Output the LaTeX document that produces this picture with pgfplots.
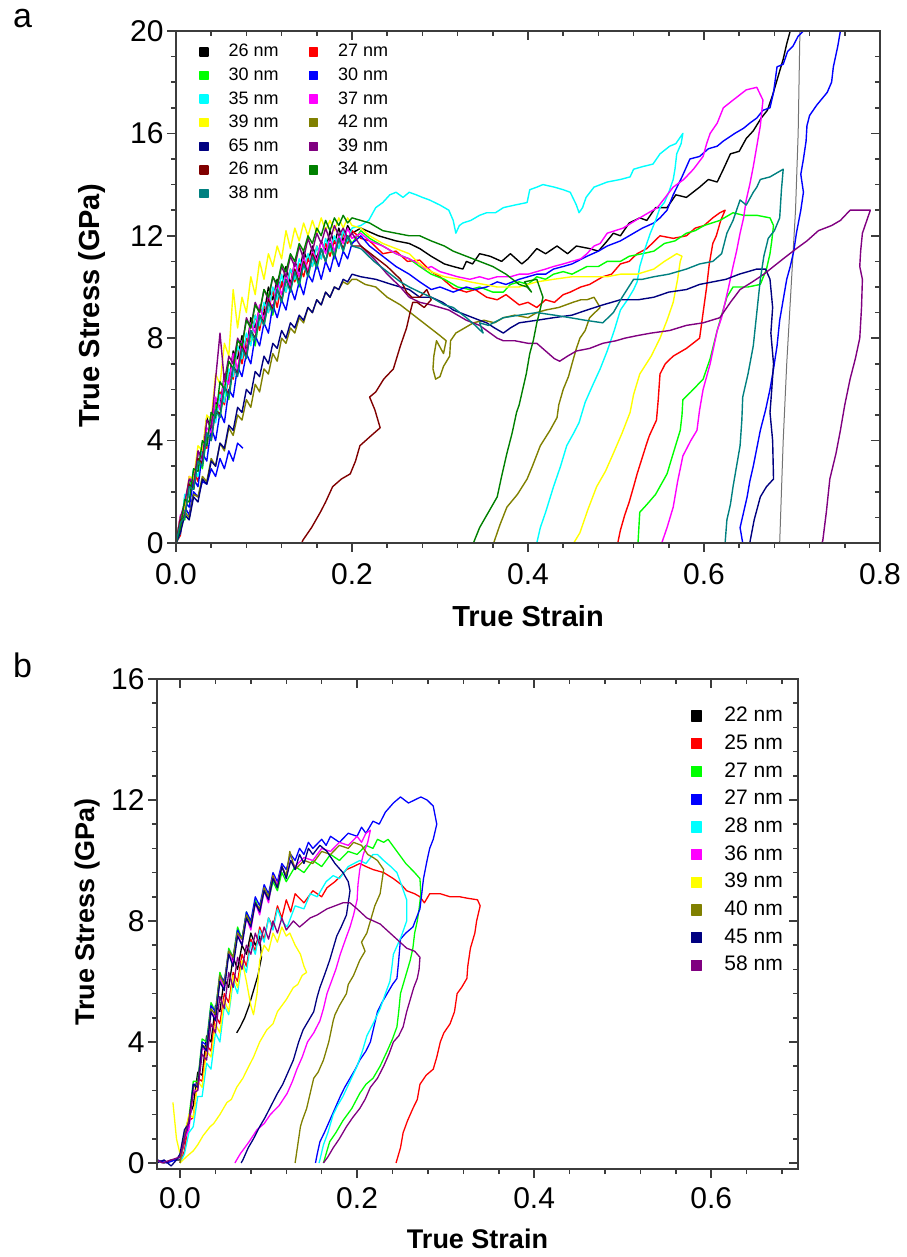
\documentclass[border=0pt]{standalone}
\usepackage{fontspec}
\setmainfont{Liberation Sans}
\usepackage{pgfplots}
\pgfplotsset{compat=1.18}
\definecolor{cOlive}{RGB}{128,128,0}
\definecolor{cNavy}{RGB}{0,0,128}
\definecolor{cPurple}{RGB}{128,0,128}
\definecolor{cWine}{RGB}{128,0,0}
\definecolor{cDGreen}{RGB}{0,128,0}
\definecolor{cTeal}{RGB}{0,128,128}
\definecolor{cGreen}{RGB}{0,255,0}
\definecolor{cBlue}{RGB}{0,0,255}
\definecolor{cRed}{RGB}{255,0,0}
\definecolor{cCyan}{RGB}{0,255,255}
\definecolor{cMag}{RGB}{255,0,255}
\definecolor{cYel}{RGB}{255,255,0}
\definecolor{axgray}{RGB}{60,60,60}
\pgfplotsset{
  myframe/.style={
    scale only axis,
    axis line style={axgray, line width=1.8pt},
    tick style={axgray, line width=1.5pt},
    major tick length=9pt, minor tick length=5pt,
    tick label style={font=\fontsize{30}{36}\selectfont, text=black},
    /pgf/number format/assume math mode=true,
  },
}
\begin{document}
\begin{tikzpicture}
\useasboundingbox (0,0) rectangle (906pt,1257pt);
\node[font=\fontsize{34}{40}\selectfont, anchor=base west, inner sep=0pt] at (13pt,1229pt) {a};
\node[font=\fontsize{34}{40}\selectfont, anchor=base west, inner sep=0pt] at (13pt,579pt) {b};
% ================= PANEL A =================
\begin{axis}[myframe, at={(176pt,714pt)}, anchor=south west, width=704pt, height=512pt,
  xmin=0, xmax=0.8, ymin=0, ymax=20,
  xtick={0,0.2,0.4,0.6,0.8}, xticklabels={0.0,0.2,0.4,0.6,0.8},
  ytick={0,4,8,12,16,20}, yticklabels={0,4,8,12,16,20},
  xticklabel style={yshift=-8pt},
  minor xtick={0.04,0.08,0.12,0.16,0.24,0.28,0.32,0.36,0.44,0.48,0.52,0.56,0.64,0.68,0.72,0.76},
  minor ytick={1,2,3,5,6,7,9,10,11,13,14,15,17,18,19},
  xtick pos=left, ytick pos=left, tick align=outside,
  xlabel={True Strain}, ylabel={True Stress (GPa)},
  label style={font=\bfseries\fontsize{29}{34}\selectfont},
  xlabel style={at={(axis description cs:0.5,-0.1426)}, anchor=center},
  ylabel style={at={(axis description cs:-0.119,0.463)}, anchor=center},
  legend columns=2, legend cell align=left,
  legend style={draw=none, fill=none, at={(axis description cs:0.0327,0.975)}, anchor=north west,
    font=\fontsize{18}{21}\selectfont, inner sep=0pt, row sep=7.6pt, column sep=20pt,
    nodes={inner sep=0pt, text height=13pt, text depth=3pt},
    /tikz/every even column/.append style={column sep=30pt}},
  legend image code/.code={\fill[#1] (0pt,-4pt) rectangle (8pt,4pt);},
  every axis plot/.append style={line width=1.4pt, line join=round},
]
% black 26 nm
\addplot[color=black] coordinates {(0,0)(0.005,1.0)(0.01,1.1)(0.015,2.5)(0.02,2.1)(0.025,3.5)(0.03,3.5)(0.035,4.9)(0.04,4.4)(0.045,5.5)(0.05,5.3)(0.055,6.6)(0.06,6.3)(0.065,7.5)(0.07,7.2)(0.075,8.1)(0.08,7.5)(0.085,8.8)(0.09,8.4)(0.095,9.2)(0.1,8.9)(0.105,10.0)(0.11,9.5)(0.115,10.3)(0.12,10.0)(0.125,10.8)(0.13,10.1)(0.135,11.0)(0.14,10.6)(0.145,11.4)(0.15,11.0)(0.155,11.6)(0.16,11.1)(0.165,11.8)(0.17,11.4)(0.175,12.2)(0.18,11.7)(0.185,12.3)(0.19,11.8)(0.195,12.4)(0.2,12.1)
(0.21,12.3)(0.23,12.0)(0.25,11.8)(0.265,11.7)(0.277,11.5)(0.29,11.2)(0.305,10.9)(0.315,10.8)(0.326,10.7)(0.33,11.0)(0.337,10.9)(0.345,11.3)(0.357,11.2)(0.37,11.0)(0.38,11.3)(0.393,10.9)(0.4,11.1)(0.41,11.5)(0.42,11.3)(0.433,11.6)(0.445,11.3)(0.455,11.6)(0.47,11.5)(0.48,11.4)(0.49,11.8)(0.497,12.1)(0.505,12.0)(0.515,12.5)(0.527,12.7)(0.535,12.6)(0.545,13.1)(0.558,13.1)(0.568,13.6)(0.58,13.5)(0.595,13.9)(0.605,14.2)(0.615,14.1)(0.622,14.6)(0.63,15.2)(0.64,15.3)(0.648,15.8)(0.656,16.1)(0.665,16.6)(0.672,16.9)(0.678,17.5)(0.684,18.2)(0.69,18.9)(0.694,19.5)(0.698,20.0)(0.704,21)};
\addlegendentry{26 nm}
\addplot[color=black!55, line width=1.0pt, forget plot] coordinates {(0.704,21)(0.709,20)(0.707,16)(0.704,13)(0.699,10)(0.694,7)(0.69,4)(0.688,2)(0.686,0)};
% red 27 nm
\addplot[color=cRed] coordinates {(0,0)(0.005,0.3)(0.01,1.8)(0.015,1.8)(0.02,2.8)(0.025,2.4)(0.03,3.9)(0.035,3.7)(0.04,5.1)(0.045,4.8)(0.05,5.9)(0.055,5.4)(0.06,6.6)(0.065,6.4)(0.07,7.7)(0.075,7.0)(0.08,8.0)(0.085,7.8)(0.09,8.9)(0.095,8.3)(0.1,9.3)(0.105,9.0)(0.11,9.9)(0.115,9.2)(0.12,10.2)(0.125,9.8)(0.13,10.7)(0.135,10.2)(0.14,10.9)(0.145,10.4)(0.15,11.1)(0.155,10.8)(0.16,11.6)(0.165,11.1)(0.17,11.7)(0.175,11.2)(0.18,11.8)(0.185,11.5)(0.19,12.1)(0.195,11.7)(0.2,12.2)
(0.21,11.9)(0.22,11.8)(0.235,11.3)(0.25,11.4)(0.263,11.0)(0.277,11.05)(0.29,10.6)(0.3,10.4)(0.315,9.96)(0.33,9.8)(0.34,9.9)(0.353,9.6)(0.365,9.5)(0.375,9.7)(0.39,9.3)(0.4,9.4)(0.41,9.2)(0.42,9.5)(0.43,9.4)(0.44,9.7)(0.448,9.8)(0.46,10.0)(0.47,10.1)(0.485,10.4)(0.495,10.5)(0.505,10.9)(0.515,11.0)(0.524,11.3)(0.535,11.5)(0.55,12.0)(0.565,11.9)(0.58,12.0)(0.59,12.3)(0.6,12.4)(0.61,12.7)(0.618,12.9)(0.624,13.0)(0.619,12.6)(0.614,12.0)(0.61,11.7)(0.606,10.9)(0.603,10.0)(0.599,9.0)(0.595,8.0)(0.58,7.6)(0.565,7.3)(0.556,7.0)(0.55,6.6)(0.548,5.6)(0.546,4.8)(0.538,4.2)(0.535,3.9)(0.524,2.7)(0.52,2.2)(0.515,1.6)(0.51,1.1)(0.505,0.5)(0.502,0)};
\addlegendentry{27 nm}
% green 30 nm
\addplot[color=cGreen] coordinates {(0,0)(0.005,1.0)(0.01,0.9)(0.015,2.4)(0.02,2.1)(0.025,3.3)(0.03,2.9)(0.035,4.2)(0.04,4.2)(0.045,5.4)(0.05,4.9)(0.055,6.0)(0.06,5.6)(0.065,6.9)(0.07,6.6)(0.075,7.8)(0.08,7.4)(0.085,8.2)(0.09,7.7)(0.095,8.9)(0.1,8.5)(0.105,9.4)(0.11,8.9)(0.115,10.0)(0.12,9.4)(0.125,10.3)(0.13,9.9)(0.135,10.6)(0.14,10.0)(0.145,11.0)(0.15,10.4)(0.155,11.2)(0.16,10.7)(0.165,11.5)(0.17,11.0)(0.175,11.6)(0.18,11.1)(0.185,11.9)(0.19,11.4)(0.195,12.0)(0.2,11.7)
(0.21,12.2)(0.22,11.9)(0.235,11.6)(0.25,11.3)(0.265,11.1)(0.277,10.8)(0.29,10.5)(0.305,10.3)(0.32,10.0)(0.334,9.9)(0.345,10.0)(0.36,9.8)(0.372,9.8)(0.38,10.1)(0.39,10.2)(0.4,10.1)(0.41,10.4)(0.42,10.3)(0.429,10.5)(0.44,10.6)(0.45,10.5)(0.467,10.8)(0.48,10.8)(0.49,11.0)(0.505,11.0)(0.515,11.2)(0.53,11.3)(0.543,11.4)(0.555,11.7)(0.567,11.8)(0.58,12.1)(0.59,12.2)(0.6,12.4)(0.618,12.6)(0.633,12.9)(0.645,12.8)(0.66,12.8)(0.675,12.7)(0.679,12.4)(0.677,11.8)(0.675,11.3)(0.671,10.7)(0.664,10.1)(0.65,10.0)(0.633,10.0)(0.626,9.6)(0.62,8.9)(0.615,8.3)(0.607,7.2)(0.599,6.4)(0.585,5.9)(0.576,5.6)(0.575,5.0)(0.573,4.4)(0.565,3.5)(0.558,2.7)(0.545,1.9)(0.535,1.5)(0.527,1.2)(0.526,0.6)(0.525,0)};
\addlegendentry{30 nm}
% blue 30 nm
\addplot[color=cBlue] coordinates {(0,0)(0.005,0.4)(0.01,1.6)(0.015,1.4)(0.02,2.5)(0.025,2.2)(0.03,3.5)(0.035,3.2)(0.04,4.5)(0.045,4.0)(0.05,5.1)(0.055,4.7)(0.06,6.0)(0.065,5.7)(0.07,6.9)(0.075,6.5)(0.08,7.4)(0.085,7.0)(0.09,8.1)(0.095,7.7)(0.1,8.6)(0.105,8.2)(0.11,9.3)(0.115,8.8)(0.12,9.5)(0.125,9.1)(0.13,10.0)(0.135,9.5)(0.14,10.2)(0.145,9.7)(0.15,10.5)(0.155,10.2)(0.16,10.9)(0.165,10.3)(0.17,11.0)(0.175,10.6)(0.18,11.3)(0.185,10.8)(0.19,11.4)(0.195,11.1)(0.2,11.7)
(0.21,12.0)(0.22,11.6)(0.235,11.2)(0.25,10.8)(0.265,10.5)(0.277,10.2)(0.29,9.9)(0.3,10.0)(0.315,9.8)(0.33,10.0)(0.34,9.9)(0.353,10.0)(0.365,10.2)(0.375,10.1)(0.39,10.3)(0.4,10.4)(0.41,10.5)(0.42,10.5)(0.429,10.7)(0.44,10.8)(0.45,10.9)(0.467,11.2)(0.48,11.4)(0.49,11.6)(0.505,11.8)(0.515,12.0)(0.53,12.3)(0.543,12.5)(0.55,12.7)(0.558,13.0)(0.565,13.6)(0.575,14.3)(0.584,15.0)(0.595,15.1)(0.605,15.4)(0.615,15.5)(0.622,15.7)(0.635,16.0)(0.645,16.2)(0.652,16.4)(0.66,16.6)(0.667,16.9)(0.675,17.0)(0.679,17.6)(0.683,18.6)(0.69,18.7)(0.695,19.2)(0.701,19.4)(0.707,19.8)(0.713,20.0)(0.72,20.6)(0.75,20.6)(0.755,20.0)(0.752,19.4)(0.747,18.6)(0.745,18.0)(0.74,17.6)(0.728,17.1)(0.72,16.7)(0.717,16.3)(0.716,15.7)(0.713,15.0)(0.71,14.4)(0.713,13.7)(0.71,13.0)(0.705,12.1)(0.702,11.4)(0.698,10.8)(0.694,10.3)(0.69,9.5)(0.686,8.7)(0.683,7.7)(0.679,6.8)(0.675,6.0)(0.67,5.2)(0.664,4.4)(0.66,3.7)(0.656,3.0)(0.652,2.4)(0.649,1.8)(0.645,1.2)(0.641,0.6)(0.644,0)};
\addlegendentry{30 nm}
\addplot[color=cBlue, forget plot] coordinates {(0,0)(0.005,0.5)(0.01,1.4)(0.015,1.1)(0.02,2.0)(0.025,1.8)(0.03,2.4)(0.035,2.3)(0.04,2.9)(0.045,2.6)(0.05,3.3)(0.055,2.9)(0.06,3.6)(0.065,3.2)(0.07,3.9)(0.076,3.7)};
% cyan 35 nm
\addplot[color=cCyan] coordinates {(0,0)(0.005,0.4)(0.01,1.9)(0.015,1.8)(0.02,2.9)(0.025,2.6)(0.03,3.9)(0.035,3.8)(0.04,5.1)(0.045,4.7)(0.05,5.8)(0.055,5.5)(0.06,6.8)(0.065,6.5)(0.07,7.7)(0.075,7.2)(0.08,8.2)(0.085,7.7)(0.09,8.9)(0.095,8.5)(0.1,9.4)(0.105,9.0)(0.11,10.0)(0.115,9.5)(0.12,10.5)(0.125,9.8)(0.13,10.7)(0.135,10.3)(0.14,11.1)(0.145,10.7)(0.15,11.3)(0.155,10.8)(0.16,11.6)(0.165,11.1)(0.17,11.9)(0.175,11.4)(0.18,12.0)(0.185,11.5)(0.19,12.2)(0.195,11.8)(0.2,12.3)
(0.21,12.4)(0.219,12.6)(0.227,13.1)(0.235,13.3)(0.243,13.6)(0.25,13.7)(0.258,13.5)(0.265,13.7)(0.273,13.6)(0.28,13.5)(0.288,13.4)(0.3,13.2)(0.31,13.0)(0.315,12.6)(0.318,12.1)(0.322,12.4)(0.326,12.5)(0.335,12.6)(0.345,12.8)(0.353,12.9)(0.363,12.9)(0.372,13.1)(0.385,13.2)(0.399,13.3)(0.402,13.8)(0.41,13.9)(0.417,14.0)(0.43,13.9)(0.44,13.8)(0.448,13.7)(0.455,13.2)(0.458,12.9)(0.462,13.1)(0.466,13.5)(0.475,13.9)(0.49,14.1)(0.505,14.2)(0.516,14.3)(0.52,14.6)(0.53,14.7)(0.542,14.8)(0.55,15.2)(0.561,15.5)(0.568,15.6)(0.576,16.0)(0.574,15.6)(0.569,15.2)(0.567,14.6)(0.565,14.2)(0.56,13.7)(0.555,13.3)(0.55,13.1)(0.545,12.6)(0.539,12.1)(0.533,11.5)(0.527,10.8)(0.524,10.2)(0.52,9.9)(0.513,9.5)(0.505,9.1)(0.498,8.3)(0.49,7.5)(0.482,6.8)(0.474,6.2)(0.465,5.5)(0.458,4.7)(0.452,4.3)(0.444,3.8)(0.437,3.0)(0.429,2.2)(0.42,1.2)(0.414,0.6)(0.41,0)};
\addlegendentry{35 nm}
% magenta 37 nm
\addplot[color=cMag] coordinates {(0,0)(0.005,1.1)(0.01,1.1)(0.015,2.6)(0.02,2.3)(0.025,3.6)(0.03,3.2)(0.035,4.5)(0.04,4.3)(0.045,5.7)(0.05,5.2)(0.055,6.5)(0.06,6.2)(0.065,7.4)(0.07,6.8)(0.075,7.9)(0.08,7.4)(0.085,8.6)(0.09,8.2)(0.095,9.3)(0.1,8.7)(0.105,9.6)(0.11,9.1)(0.115,10.2)(0.12,9.7)(0.125,10.5)(0.13,10.0)(0.135,11.0)(0.14,10.4)(0.145,11.2)(0.15,10.6)(0.155,11.4)(0.16,11.0)(0.165,11.8)(0.17,11.3)(0.175,11.9)(0.18,11.4)(0.185,12.0)(0.19,11.7)(0.195,12.3)(0.2,11.9)
(0.21,12.1)(0.22,11.8)(0.235,11.6)(0.25,11.3)(0.265,11.1)(0.277,10.9)(0.283,10.7)(0.29,10.8)(0.3,10.6)(0.31,10.5)(0.32,10.4)(0.334,10.3)(0.345,10.4)(0.355,10.3)(0.365,10.4)(0.38,10.4)(0.39,10.5)(0.4,10.5)(0.41,10.6)(0.42,10.7)(0.429,10.8)(0.44,10.9)(0.45,11.0)(0.46,11.1)(0.467,11.3)(0.475,11.6)(0.482,11.7)(0.49,12.1)(0.508,12.3)(0.527,12.7)(0.547,13.1)(0.565,13.9)(0.577,14.2)(0.588,14.6)(0.599,15.1)(0.603,15.6)(0.607,16.0)(0.615,16.4)(0.622,17.0)(0.633,17.3)(0.648,17.7)(0.66,17.8)(0.667,17.3)(0.664,16.3)(0.66,15.5)(0.656,14.7)(0.652,14.0)(0.648,13.4)(0.645,12.7)(0.641,12.1)(0.637,11.4)(0.633,10.8)(0.628,10.0)(0.62,8.8)(0.615,8.3)(0.607,7.0)(0.599,6.0)(0.595,5.2)(0.592,4.4)(0.585,4.0)(0.576,3.4)(0.57,2.4)(0.565,1.4)(0.558,0.6)(0.552,0)};
\addlegendentry{37 nm}
% yellow 39 nm
\addplot[color=cYel] coordinates {(0,0)(0.005,1.0)(0.01,1.4)(0.015,2.6)(0.02,2.5)(0.025,3.8)(0.03,3.6)(0.035,5.0)(0.04,4.8)(0.045,6.6)(0.05,6.2)(0.055,7.8)(0.06,7.3)(0.065,9.9)(0.07,8.4)(0.075,9.6)(0.08,9.0)(0.085,10.4)(0.09,9.7)(0.095,11.0)(0.1,10.3)(0.105,11.3)(0.11,10.8)(0.115,11.6)(0.12,11.1)(0.125,12.2)(0.13,11.5)(0.135,12.3)(0.14,11.8)(0.145,12.5)(0.15,12.0)(0.155,12.6)(0.16,12.1)(0.165,12.7)(0.17,12.2)(0.175,12.6)(0.18,12.2)(0.185,12.7)(0.19,12.3)(0.195,12.7)(0.2,12.4)
(0.21,12.3)(0.22,12.0)(0.235,11.7)(0.25,11.5)(0.265,11.3)(0.277,10.9)(0.29,10.6)(0.305,10.4)(0.322,10.3)(0.334,10.2)(0.35,10.1)(0.365,10.0)(0.39,10.0)(0.41,10.2)(0.429,10.3)(0.45,10.4)(0.467,10.4)(0.49,10.4)(0.505,10.5)(0.524,10.5)(0.543,10.7)(0.555,11.0)(0.569,11.3)(0.575,11.2)(0.573,11.0)(0.57,10.3)(0.565,9.4)(0.558,8.7)(0.55,8.0)(0.54,7.3)(0.527,6.6)(0.52,5.8)(0.516,5.1)(0.507,4.3)(0.497,3.5)(0.488,2.8)(0.478,2.2)(0.468,1.3)(0.459,0.4)(0.452,0)};
\addlegendentry{39 nm}
% olive 42 nm
\addplot[color=cOlive] coordinates {(0,0)(0.005,0.5)(0.01,1.2)(0.015,1.0)(0.02,1.9)(0.025,1.8)(0.03,2.6)(0.035,2.4)(0.04,3.3)(0.045,3.0)(0.05,3.9)(0.055,3.6)(0.06,4.5)(0.065,4.2)(0.07,5.0)(0.075,4.8)(0.08,5.6)(0.085,5.3)(0.09,6.2)(0.095,5.9)(0.1,6.8)(0.105,6.6)(0.11,7.4)(0.115,7.1)(0.12,8.0)(0.125,7.8)(0.13,8.4)(0.135,8.2)(0.14,8.8)(0.145,8.6)(0.15,9.2)(0.155,9.0)(0.16,9.5)(0.165,9.3)(0.17,9.8)(0.175,9.6)(0.18,10.0)(0.185,9.9)(0.19,10.2)(0.195,10.1)(0.2,10.3)
(0.205,10.3)(0.215,10.1)(0.227,10.0)(0.24,9.6)(0.255,9.3)(0.27,8.9)(0.285,8.5)(0.3,8.1)(0.307,7.9)(0.304,7.4)(0.296,7.9)(0.293,7.3)(0.292,6.8)(0.295,6.4)(0.3,6.5)(0.304,6.9)(0.311,7.3)(0.312,7.9)(0.318,8.2)(0.328,8.4)(0.338,8.6)(0.35,8.7)(0.362,8.6)(0.372,8.8)(0.385,8.9)(0.4,8.8)(0.41,9.0)(0.42,9.1)(0.435,9.2)(0.451,9.4)(0.46,9.5)(0.467,9.5)(0.475,9.6)(0.482,9.2)(0.476,9.0)(0.47,8.8)(0.465,8.3)(0.459,8.0)(0.455,7.6)(0.45,7.0)(0.446,6.5)(0.44,6.0)(0.435,5.4)(0.433,4.9)(0.425,4.4)(0.414,3.8)(0.405,3.0)(0.399,2.5)(0.388,1.9)(0.376,1.4)(0.368,0.7)(0.361,0)};
\addlegendentry{42 nm}
% navy 65 nm
\addplot[color=cNavy] coordinates {(0,0)(0.005,0.4)(0.01,1.1)(0.015,0.9)(0.02,1.8)(0.025,1.6)(0.03,2.5)(0.035,2.3)(0.04,3.2)(0.045,3.0)(0.05,3.9)(0.055,3.7)(0.06,4.6)(0.065,4.4)(0.07,5.3)(0.075,5.1)(0.08,6.0)(0.085,5.8)(0.09,6.7)(0.095,6.5)(0.1,7.3)(0.105,7.0)(0.11,7.8)(0.115,7.6)(0.12,8.3)(0.125,8.0)(0.13,8.6)(0.135,8.4)(0.14,8.9)(0.145,8.7)(0.15,9.2)(0.155,9.0)(0.16,9.5)(0.165,9.3)(0.17,9.8)(0.175,9.6)(0.18,10.0)(0.185,9.9)(0.19,10.3)(0.195,10.2)(0.2,10.5)
(0.21,10.4)(0.227,10.3)(0.245,10.1)(0.265,9.9)(0.277,9.6)(0.29,9.6)(0.303,9.4)(0.315,9.1)(0.33,8.9)(0.345,8.7)(0.353,8.6)(0.362,8.4)(0.372,8.2)(0.38,8.4)(0.39,8.6)(0.41,8.7)(0.429,8.8)(0.45,8.9)(0.467,9.1)(0.485,9.3)(0.505,9.5)(0.525,9.5)(0.543,9.6)(0.56,9.8)(0.58,9.9)(0.595,10.1)(0.61,10.2)(0.625,10.3)(0.64,10.5)(0.66,10.7)(0.67,10.7)(0.675,10.3)(0.678,9.2)(0.676,8.2)(0.679,7.0)(0.677,6.0)(0.675,5.1)(0.678,4.0)(0.679,2.5)(0.671,2.2)(0.664,1.8)(0.657,0.9)(0.652,0)};
\addlegendentry{65 nm}
% purple 39 nm
\addplot[color=cPurple] coordinates {(0,0)(0.005,1.0)(0.01,1.6)(0.015,2.5)(0.02,2.3)(0.025,3.6)(0.03,3.3)(0.035,4.8)(0.04,4.5)(0.045,6.4)(0.05,8.2)(0.055,6.3)(0.06,7.3)(0.065,7.0)(0.07,8.0)(0.075,7.7)(0.08,8.8)(0.085,8.4)(0.09,9.4)(0.095,9.0)(0.1,9.9)(0.105,9.5)(0.11,10.4)(0.115,10.0)(0.12,10.8)(0.125,10.4)(0.13,11.2)(0.135,10.8)(0.14,11.6)(0.145,11.1)(0.15,11.9)(0.155,11.4)(0.16,12.1)(0.165,11.7)(0.17,12.3)(0.175,11.8)(0.18,12.4)(0.185,12.0)(0.19,12.3)(0.195,11.9)(0.2,12.1)
(0.21,11.6)(0.225,11.1)(0.24,10.5)(0.255,10.0)(0.265,9.6)(0.277,9.4)(0.29,9.3)(0.31,9.1)(0.315,9.0)(0.33,8.7)(0.345,8.5)(0.353,8.3)(0.365,8.0)(0.372,7.9)(0.385,7.9)(0.4,7.8)(0.41,7.8)(0.42,7.5)(0.43,7.2)(0.436,7.1)(0.445,7.3)(0.455,7.5)(0.47,7.6)(0.485,7.8)(0.5,7.9)(0.51,8.0)(0.524,8.1)(0.54,8.2)(0.561,8.3)(0.58,8.5)(0.599,8.6)(0.618,8.8)(0.63,9.4)(0.641,9.9)(0.655,10.2)(0.668,10.5)(0.679,10.8)(0.69,11.1)(0.705,11.5)(0.717,11.8)(0.73,12.2)(0.745,12.4)(0.755,12.6)(0.766,13.0)(0.778,13.0)(0.789,13.0)(0.785,12.6)(0.78,12.1)(0.778,11.4)(0.777,10.8)(0.78,10.3)(0.779,9.2)(0.777,8.0)(0.772,7.2)(0.766,6.4)(0.76,5.4)(0.755,4.4)(0.75,3.5)(0.743,2.5)(0.739,1.2)(0.735,0.1)(0.734,0)};
\addlegendentry{39 nm}
% wine 26 nm
\addplot[color=cWine] coordinates {(0,0)(0.005,0.9)(0.01,1.0)(0.015,2.3)(0.02,2.1)(0.025,3.3)(0.03,3.1)(0.035,4.3)(0.04,4.0)(0.045,5.2)(0.05,5.0)(0.055,6.1)(0.06,5.8)(0.065,6.9)(0.07,6.6)(0.075,7.7)(0.08,7.3)(0.085,8.3)(0.09,8.0)(0.095,8.9)(0.1,8.6)(0.105,9.5)(0.11,9.1)(0.115,9.9)(0.12,9.5)(0.125,10.3)(0.13,9.9)(0.135,10.7)(0.14,10.2)(0.145,11.0)(0.15,10.5)(0.155,11.3)(0.16,10.9)(0.165,11.5)(0.17,11.0)(0.175,11.7)(0.18,11.2)(0.185,11.9)(0.19,11.5)(0.195,12.0)(0.2,11.6)
(0.21,11.6)(0.225,11.2)(0.24,10.8)(0.255,10.3)(0.262,9.8)(0.268,9.6)(0.277,9.6)(0.285,9.9)(0.29,9.5)(0.282,9.2)(0.274,9.4)(0.269,9.4)(0.266,9.0)(0.262,8.4)(0.258,8.0)(0.255,7.7)(0.247,6.8)(0.236,6.4)(0.227,5.9)(0.22,5.7)(0.226,5.2)(0.232,4.5)(0.222,4.2)(0.209,3.8)(0.204,3.2)(0.198,2.7)(0.188,2.5)(0.178,2.2)(0.17,1.6)(0.164,1.2)(0.154,0.6)(0.144,0.1)(0.143,0)};
\addlegendentry{26 nm}
% dark green 34 nm
\addplot[color=cDGreen] coordinates {(0,0)(0.005,0.6)(0.01,1.7)(0.015,1.6)(0.02,2.9)(0.025,2.8)(0.03,4.0)(0.035,3.8)(0.04,5.1)(0.045,4.9)(0.05,6.3)(0.055,6.0)(0.06,7.1)(0.065,6.8)(0.07,7.9)(0.075,7.7)(0.08,8.7)(0.085,8.4)(0.09,9.3)(0.095,9.0)(0.1,9.9)(0.105,9.6)(0.11,10.4)(0.115,10.1)(0.12,10.9)(0.125,10.6)(0.13,11.3)(0.135,11.0)(0.14,11.7)(0.145,11.4)(0.15,12.0)(0.155,11.7)(0.16,12.3)(0.165,12.0)(0.17,12.6)(0.175,12.2)(0.18,12.7)(0.185,12.4)(0.19,12.8)(0.195,12.5)(0.2,12.7)
(0.21,12.6)(0.22,12.5)(0.235,12.2)(0.25,12.1)(0.265,12.0)(0.277,12.0)(0.29,11.8)(0.305,11.6)(0.315,11.4)(0.33,11.2)(0.345,11.0)(0.36,10.8)(0.375,10.5)(0.39,10.1)(0.399,10.0)(0.404,9.8)(0.396,10.2)(0.41,10.3)(0.417,9.6)(0.413,9.0)(0.41,8.6)(0.406,7.9)(0.402,7.4)(0.398,6.6)(0.394,6.0)(0.39,5.4)(0.387,5.1)(0.382,4.3)(0.376,3.5)(0.37,2.6)(0.365,1.8)(0.355,1.2)(0.345,0.6)(0.338,0)};
\addlegendentry{34 nm}
% teal 38 nm
\addplot[color=cTeal] coordinates {(0,0)(0.005,0.8)(0.01,1.0)(0.015,2.2)(0.02,2.1)(0.025,3.2)(0.03,3.0)(0.035,4.3)(0.04,4.0)(0.045,5.2)(0.05,4.9)(0.055,6.1)(0.06,5.7)(0.065,6.9)(0.07,6.5)(0.075,7.6)(0.08,7.2)(0.085,8.3)(0.09,7.9)(0.095,8.9)(0.1,8.5)(0.105,9.4)(0.11,9.0)(0.115,9.9)(0.12,9.4)(0.125,10.3)(0.13,9.8)(0.135,10.6)(0.14,10.1)(0.145,10.9)(0.15,10.4)(0.155,11.2)(0.16,10.8)(0.165,11.5)(0.17,11.0)(0.175,11.7)(0.18,11.2)(0.185,11.9)(0.19,11.4)(0.195,12.0)(0.2,11.6)
(0.21,11.5)(0.225,11.0)(0.24,10.6)(0.255,10.2)(0.265,10.0)(0.277,9.8)(0.29,9.6)(0.305,9.3)(0.315,9.2)(0.33,8.8)(0.34,8.5)(0.349,8.2)(0.345,8.6)(0.355,8.5)(0.372,8.8)(0.39,8.9)(0.41,9.0)(0.43,8.9)(0.448,8.8)(0.465,8.7)(0.485,8.6)(0.497,9.0)(0.507,9.6)(0.52,10.3)(0.53,10.3)(0.543,10.4)(0.56,10.5)(0.58,10.7)(0.595,10.9)(0.61,11.0)(0.62,11.3)(0.626,12.1)(0.633,12.6)(0.641,13.4)(0.648,13.2)(0.656,13.7)(0.66,13.9)(0.664,14.2)(0.675,14.3)(0.69,14.6)(0.688,13.8)(0.686,12.7)(0.68,12.2)(0.673,11.9)(0.668,11.2)(0.664,10.3)(0.66,9.0)(0.656,7.7)(0.65,6.6)(0.644,5.7)(0.643,4.8)(0.641,3.8)(0.637,3.0)(0.633,2.2)(0.63,1.5)(0.626,0.9)(0.624,0)};
\addlegendentry{38 nm}
\end{axis}
\begin{axis}[myframe, at={(176pt,714pt)}, anchor=south west, width=704pt, height=512pt,
  xmin=0, xmax=0.8, ymin=0, ymax=20,
  xtick={0,0.2,0.4,0.6,0.8}, xticklabels={}, ytick={0,4,8,12,16,20}, yticklabels={},
  minor xtick={0.04,0.08,0.12,0.16,0.24,0.28,0.32,0.36,0.44,0.48,0.52,0.56,0.64,0.68,0.72,0.76},
  minor ytick={1,2,3,5,6,7,9,10,11,13,14,15,17,18,19},
  xtick pos=right, ytick pos=right, tick align=inside]
\end{axis}
% ================= PANEL B =================
\begin{axis}[myframe, at={(157pt,88pt)}, anchor=south west, width=641pt, height=490pt,
  xmin=-0.026, xmax=0.698, ymin=-0.2, ymax=16,
  xtick={0,0.2,0.4,0.6}, xticklabels={0.0,0.2,0.4,0.6},
  ytick={0,4,8,12,16}, yticklabels={0,4,8,12,16},
  xticklabel style={yshift=-6pt},
  minor xtick={0.04,0.08,0.12,0.16,0.24,0.28,0.32,0.36,0.44,0.48,0.52,0.56,0.64,0.68},
  minor ytick={0.8,1.6,2.4,3.2,4.8,5.6,6.4,7.2,8.8,9.6,10.4,11.2,12.8,13.6,14.4,15.2},
  xtick pos=left, ytick pos=left, tick align=outside,
  xlabel={True Strain}, ylabel={True Stress (GPa)},
  label style={font=\bfseries\fontsize{27}{32}\selectfont},
  xlabel style={at={(axis description cs:0.5,-0.143)}, anchor=center},
  ylabel style={at={(axis description cs:-0.108,0.524)}, anchor=center},
  legend cell align=left,
  legend style={draw=none, fill=none, at={(axis description cs:0.833,0.944)}, anchor=north west,
    font=\fontsize{21}{25}\selectfont, inner sep=0pt, row sep=8.7pt, column sep=22pt,
    nodes={inner sep=0pt, text height=15pt, text depth=4pt}},
  legend image code/.code={\fill[#1] (0pt,-5pt) rectangle (10pt,5pt);},
  every axis plot/.append style={line width=1.3pt, line join=round},
]
% black 22 nm
\addplot[color=black] coordinates {(-0.026,0.1)(-0.018,0.0)(-0.01,0.1)(0,0.1)(0.005,0.7)(0.01,1.5)(0.015,1.9)(0.02,3.0)(0.025,2.9)(0.03,4.2)(0.035,4.0)(0.04,5.2)(0.045,5.0)(0.05,6.1)(0.055,5.8)(0.06,6.8)(0.065,6.4)(0.07,7.2)(0.075,6.9)(0.08,7.6)(0.085,7.2)(0.09,7.5)(0.092,6.8)(0.088,6.2)(0.083,5.7)(0.078,5.2)(0.073,4.8)(0.068,4.5)(0.064,4.3)};
\addlegendentry{22 nm}
% red 25 nm
\addplot[color=cRed] coordinates {(0,0)(0.005,0.4)(0.01,1.4)(0.015,1.5)(0.02,2.8)(0.025,2.7)(0.03,3.9)(0.035,3.7)(0.04,4.9)(0.045,4.6)(0.05,5.6)(0.055,5.3)(0.06,6.3)(0.065,6.0)(0.07,6.9)(0.075,6.5)(0.08,7.4)(0.085,7.0)(0.09,7.8)(0.095,7.4)(0.1,8.1)(0.105,7.8)(0.11,8.5)(0.115,8.1)(0.12,8.7)(0.125,8.3)(0.13,8.9)(0.14,8.6)(0.15,9.0)(0.16,8.8)(0.166,9.1)(0.175,9.3)(0.182,9.5)(0.188,9.7)(0.196,9.8)(0.203,9.9)(0.21,9.8)(0.218,9.7)(0.23,9.6)(0.241,9.4)(0.25,9.2)(0.256,9.0)(0.265,8.9)(0.271,8.8)(0.276,8.6)(0.282,8.9)(0.294,8.9)(0.305,8.8)(0.316,8.8)(0.325,8.75)(0.336,8.7)(0.339,8.5)(0.335,8.0)(0.333,7.6)(0.328,7.1)(0.325,6.5)(0.324,6.1)(0.318,5.8)(0.313,5.6)(0.31,5.0)(0.305,4.6)(0.298,4.3)(0.294,4.0)(0.29,3.5)(0.286,3.1)(0.278,2.9)(0.271,2.6)(0.268,2.1)(0.263,1.8)(0.257,1.4)(0.252,1.0)(0.249,0.5)(0.245,0.1)(0.244,0)};
\addlegendentry{25 nm}
% green 27 nm
\addplot[color=cGreen] coordinates {(0,0)(0.005,1.0)(0.01,1.5)(0.015,2.7)(0.02,2.7)(0.025,4.1)(0.03,4.0)(0.035,5.3)(0.04,5.0)(0.045,6.3)(0.05,5.9)(0.055,7.1)(0.06,6.8)(0.065,7.8)(0.07,7.4)(0.075,8.3)(0.08,7.9)(0.085,8.7)(0.09,8.3)(0.095,9.0)(0.1,8.7)(0.105,9.3)(0.11,9.0)(0.115,9.6)(0.12,9.3)(0.13,9.8)(0.14,9.6)(0.15,10.0)(0.16,9.8)(0.17,10.2)(0.18,10.0)(0.19,10.3)(0.2,10.2)(0.21,10.5)(0.218,10.4)(0.223,10.7)(0.23,10.6)(0.235,10.7)(0.245,10.3)(0.255,9.9)(0.265,9.6)(0.271,9.4)(0.272,8.9)(0.27,8.4)(0.268,8.0)(0.265,7.6)(0.263,7.1)(0.26,6.7)(0.256,6.3)(0.252,5.9)(0.249,5.6)(0.247,5.0)(0.245,4.5)(0.24,4.1)(0.234,3.7)(0.226,3.2)(0.218,2.8)(0.21,2.6)(0.203,2.3)(0.194,1.8)(0.184,1.4)(0.176,1.0)(0.169,0.7)(0.165,0.3)(0.162,0)};
\addlegendentry{27 nm}
% blue 27 nm
\addplot[color=cBlue] coordinates {(-0.026,0.1)(-0.015,0.0)(-0.005,0.1)(0,0.2)(0.005,0.9)(0.01,1.2)(0.015,2.6)(0.02,2.6)(0.025,4.0)(0.03,3.9)(0.035,5.2)(0.04,5.0)(0.045,6.2)(0.05,6.0)(0.055,7.0)(0.06,6.8)(0.065,7.7)(0.07,7.4)(0.075,8.3)(0.08,8.0)(0.085,8.8)(0.09,8.5)(0.095,9.2)(0.1,8.9)(0.105,9.6)(0.11,9.3)(0.115,9.9)(0.12,9.7)(0.125,10.2)(0.13,10.0)(0.135,10.4)(0.14,10.2)(0.145,10.6)(0.15,10.4)(0.16,10.7)(0.165,10.5)(0.17,10.8)(0.18,10.6)(0.19,10.9)(0.2,10.8)(0.205,11.1)(0.21,10.9)(0.218,11.3)(0.225,11.2)(0.232,11.6)(0.241,11.9)(0.249,12.1)(0.258,11.9)(0.265,12.0)(0.272,12.1)(0.279,12.0)(0.286,11.8)(0.29,11.2)(0.286,10.7)(0.282,10.4)(0.279,10.0)(0.275,9.4)(0.273,8.9)(0.271,8.4)(0.263,7.8)(0.255,7.6)(0.249,7.4)(0.247,6.7)(0.245,6.1)(0.24,5.9)(0.234,5.6)(0.228,5.3)(0.223,5.0)(0.219,4.5)(0.215,4.0)(0.21,3.7)(0.203,3.4)(0.198,3.1)(0.192,2.8)(0.186,2.5)(0.181,2.2)(0.175,1.8)(0.169,1.4)(0.163,1.0)(0.158,0.7)(0.155,0.3)(0.153,0)};
\addlegendentry{27 nm}
% cyan 28 nm
\addplot[color=cCyan] coordinates {(0,0)(0.005,0.3)(0.01,1.0)(0.015,1.2)(0.02,2.2)(0.025,2.2)(0.03,3.3)(0.035,3.1)(0.04,4.3)(0.045,4.0)(0.05,5.2)(0.055,4.9)(0.06,6.0)(0.065,5.6)(0.07,6.7)(0.075,6.3)(0.08,7.3)(0.085,6.9)(0.09,7.7)(0.095,7.3)(0.1,8.1)(0.105,7.7)(0.11,8.4)(0.115,8.0)(0.121,7.8)(0.13,8.5)(0.14,8.4)(0.147,8.9)(0.155,8.8)(0.165,9.3)(0.173,9.5)(0.18,9.4)(0.19,9.8)(0.203,10.0)(0.21,9.9)(0.218,10.2)(0.223,10.2)(0.23,10.0)(0.238,9.8)(0.245,9.6)(0.25,9.2)(0.256,8.7)(0.256,8.0)(0.25,7.5)(0.241,6.9)(0.239,6.4)(0.237,6.0)(0.232,5.6)(0.226,5.1)(0.218,4.6)(0.211,4.2)(0.206,3.7)(0.2,3.2)(0.192,2.7)(0.184,2.2)(0.178,1.9)(0.173,1.6)(0.167,1.0)(0.162,0.6)(0.158,0.1)(0.157,0)};
\addlegendentry{28 nm}
% magenta 36 nm
\addplot[color=cMag] coordinates {(0,0)(0.005,0.8)(0.01,1.1)(0.015,2.4)(0.02,2.4)(0.025,3.8)(0.03,3.7)(0.035,5.0)(0.04,4.8)(0.045,6.1)(0.05,5.8)(0.055,7.0)(0.06,6.6)(0.065,7.6)(0.07,7.2)(0.075,8.1)(0.08,7.7)(0.085,8.6)(0.09,8.2)(0.095,9.0)(0.1,8.6)(0.105,9.5)(0.11,9.2)(0.115,9.8)(0.12,9.5)(0.125,10.0)(0.13,9.8)(0.14,10.1)(0.15,10.0)(0.16,10.4)(0.17,10.3)(0.18,10.6)(0.19,10.5)(0.2,10.8)(0.205,10.6)(0.21,10.9)(0.215,11.0)(0.212,10.6)(0.207,10.2)(0.203,9.7)(0.201,9.2)(0.2,8.7)(0.196,8.2)(0.192,7.8)(0.187,7.4)(0.181,6.9)(0.176,6.4)(0.171,6.0)(0.166,5.6)(0.162,5.1)(0.158,4.7)(0.151,4.3)(0.144,4.0)(0.138,3.5)(0.132,3.1)(0.127,2.7)(0.121,2.3)(0.112,1.9)(0.102,1.6)(0.095,1.3)(0.087,1.1)(0.078,0.7)(0.068,0.3)(0.062,0)};
\addlegendentry{36 nm}
% yellow 39 nm
\addplot[color=cYel] coordinates {(-0.008,2.0)(-0.006,1.4)(-0.004,0.8)(0,0.3)(0.005,0.9)(0.01,1.6)(0.015,1.5)(0.02,2.7)(0.025,2.5)(0.03,3.7)(0.035,3.5)(0.04,4.6)(0.045,4.3)(0.05,5.4)(0.055,5.0)(0.06,6.2)(0.065,5.8)(0.07,6.7)(0.075,6.0)(0.08,5.2)(0.083,4.9)(0.087,5.6)(0.09,6.7)(0.095,7.2)(0.1,7.0)(0.105,7.6)(0.11,7.3)(0.115,7.8)(0.12,7.5)(0.124,7.6)(0.13,7.2)(0.136,6.9)(0.14,6.5)(0.143,6.3)(0.138,6.2)(0.133,5.9)(0.128,5.8)(0.12,5.4)(0.11,5.0)(0.105,4.6)(0.098,4.4)(0.09,4.0)(0.083,3.5)(0.076,3.1)(0.071,2.8)(0.064,2.5)(0.058,2.1)(0.053,2.0)(0.045,1.6)(0.038,1.3)(0.034,1.2)(0.026,0.9)(0.02,0.6)(0.015,0.4)(0.007,0.2)(0,0)};
\addlegendentry{39 nm}
% olive 40 nm
\addplot[color=cOlive] coordinates {(0,0)(0.005,0.9)(0.01,1.4)(0.015,2.5)(0.02,2.6)(0.025,3.9)(0.03,3.8)(0.035,5.1)(0.04,4.9)(0.045,6.2)(0.05,5.9)(0.055,7.0)(0.06,6.8)(0.065,7.6)(0.07,7.4)(0.075,8.2)(0.08,7.9)(0.085,8.6)(0.09,8.4)(0.095,9.1)(0.1,8.8)(0.105,9.5)(0.11,9.1)(0.115,9.8)(0.12,9.5)(0.124,10.3)(0.13,9.7)(0.14,10.0)(0.15,9.9)(0.16,10.3)(0.17,10.2)(0.18,10.5)(0.19,10.4)(0.196,10.6)(0.205,10.5)(0.212,10.2)(0.218,10.1)(0.223,10.0)(0.23,9.7)(0.228,9.3)(0.226,8.9)(0.22,8.5)(0.215,8.0)(0.211,7.6)(0.205,7.3)(0.209,7.0)(0.203,6.7)(0.196,6.2)(0.19,5.9)(0.188,5.6)(0.18,5.2)(0.175,4.9)(0.173,4.7)(0.168,4.0)(0.162,3.4)(0.156,3.0)(0.151,2.8)(0.147,2.3)(0.143,1.8)(0.138,1.4)(0.136,1.2)(0.133,0.6)(0.13,0)};
\addlegendentry{40 nm}
% navy 45 nm
\addplot[color=cNavy] coordinates {(-0.026,0.0)(-0.018,0.1)(-0.01,-0.1)(-0.004,0.1)(0,0.3)(0.005,1.1)(0.01,1.3)(0.015,2.6)(0.02,2.5)(0.025,3.9)(0.03,3.7)(0.035,5.0)(0.04,4.7)(0.045,6.0)(0.05,5.7)(0.055,6.9)(0.06,6.5)(0.065,7.5)(0.07,7.2)(0.075,8.1)(0.08,7.8)(0.085,8.6)(0.09,8.3)(0.095,9.0)(0.1,8.7)(0.105,9.4)(0.11,9.1)(0.115,9.8)(0.12,9.4)(0.125,10.0)(0.13,9.7)(0.135,10.2)(0.14,9.9)(0.145,10.4)(0.15,10.2)(0.158,10.5)(0.166,10.3)(0.175,9.9)(0.184,9.6)(0.19,9.3)(0.192,9.0)(0.19,8.6)(0.188,8.2)(0.182,7.8)(0.177,7.5)(0.173,7.1)(0.169,6.7)(0.163,6.2)(0.158,5.8)(0.155,5.5)(0.151,5.0)(0.145,4.7)(0.139,4.4)(0.134,4.0)(0.128,3.4)(0.122,3.0)(0.116,2.6)(0.11,2.3)(0.103,1.9)(0.096,1.5)(0.09,1.2)(0.083,0.8)(0.077,0.5)(0.071,0.1)(0.069,0)};
\addlegendentry{45 nm}
% purple 58 nm
\addplot[color=cPurple] coordinates {(-0.026,0.1)(-0.02,0.0)(-0.01,0.1)(0,0.2)(0.005,0.8)(0.01,1.4)(0.015,2.3)(0.02,2.4)(0.025,3.6)(0.03,3.4)(0.035,4.6)(0.04,4.3)(0.045,5.5)(0.05,5.1)(0.055,6.3)(0.06,5.8)(0.065,6.8)(0.07,6.4)(0.075,7.2)(0.08,6.9)(0.085,7.6)(0.09,7.2)(0.095,7.8)(0.1,7.4)(0.105,8.0)(0.11,7.6)(0.115,8.1)(0.12,7.7)(0.128,8.0)(0.135,7.8)(0.147,8.1)(0.155,8.2)(0.166,8.4)(0.175,8.5)(0.184,8.6)(0.192,8.6)(0.2,8.4)(0.211,8.1)(0.226,7.9)(0.241,7.5)(0.256,7.1)(0.265,7.0)(0.271,6.8)(0.27,6.4)(0.268,6.1)(0.264,5.8)(0.26,5.4)(0.256,5.0)(0.252,4.5)(0.247,4.2)(0.241,4.0)(0.236,3.6)(0.23,3.2)(0.223,2.8)(0.215,2.5)(0.209,2.1)(0.203,1.8)(0.195,1.5)(0.188,1.2)(0.18,0.8)(0.173,0.5)(0.167,0.2)(0.162,0)};
\addlegendentry{58 nm}
\end{axis}
\begin{axis}[myframe, at={(157pt,88pt)}, anchor=south west, width=641pt, height=490pt,
  xmin=-0.026, xmax=0.698, ymin=-0.2, ymax=16,
  xtick={0,0.2,0.4,0.6}, xticklabels={}, ytick={0,4,8,12,16}, yticklabels={},
  minor xtick={0.04,0.08,0.12,0.16,0.24,0.28,0.32,0.36,0.44,0.48,0.52,0.56,0.64,0.68},
  minor ytick={0.8,1.6,2.4,3.2,4.8,5.6,6.4,7.2,8.8,9.6,10.4,11.2,12.8,13.6,14.4,15.2},
  xtick pos=right, ytick pos=right, tick align=inside]
\end{axis}
\end{tikzpicture}
\end{document}
